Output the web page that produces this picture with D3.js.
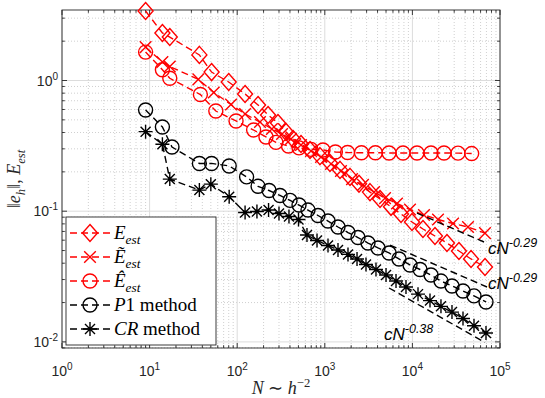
<!DOCTYPE html>
<html>
<head>
<meta charset="utf-8">
<script src="https://cdn.jsdelivr.net/npm/d3@7"></script>
<style>
  body { margin: 0; background: #fff; }
  svg { display: block; }
</style>
</head>
<body>
<div id="chart"></div>
<script>
// error norms / estimators vs. number of unknowns N
var nEst = [9, 14, 17, 37, 51, 80, 123, 173, 225, 292, 361, 434, 535, 678, 881, 1146, 1492, 1941, 2457, 3280, 4270, 5700, 7410, 9890, 13200, 18100, 24800, 34000, 46700, 67400];
var eEst = [3.40, 2.31, 2.15, 1.57, 1.16, 0.974, 0.788, 0.650, 0.545, 0.473, 0.404, 0.357, 0.327, 0.294, 0.264, 0.234, 0.207, 0.183, 0.162, 0.140, 0.124, 0.108, 0.0952, 0.0827, 0.0731, 0.0646, 0.0571, 0.0496, 0.0431, 0.0374];

var nTil = [9, 14, 17, 36, 54, 85, 123, 182, 249, 325, 411, 535, 696, 906, 1178, 1530, 2045, 2730, 3650, 4870, 6670, 9390, 13560, 19600, 29100, 43100, 67400];
var eTil = [1.80, 1.385, 1.28, 1.02, 0.81, 0.655, 0.554, 0.481, 0.426, 0.390, 0.357, 0.321, 0.289, 0.260, 0.230, 0.203, 0.176, 0.159, 0.140, 0.126, 0.1146, 0.103, 0.0935, 0.0864, 0.0805, 0.0757, 0.068];

var nHat = [9, 14, 17, 38, 57, 97, 154, 213, 277, 385, 508, 696, 953, 1320, 1820, 2620, 3780, 5410, 7810, 11290, 16300, 22950, 33170, 47500];
var eHat = [1.65, 1.21, 1.04, 0.781, 0.584, 0.49, 0.418, 0.370, 0.336, 0.315, 0.305, 0.297, 0.294, 0.284, 0.281, 0.280, 0.280, 0.279, 0.279, 0.279, 0.279, 0.279, 0.278, 0.276];

var nP1 = [9, 14, 18, 37, 51, 81, 128, 173, 231, 308, 401, 508, 643, 836, 1088, 1415, 1840, 2393, 3112, 4048, 5410, 7030, 9390, 12220, 16300, 21190, 28310, 37810, 50480, 69200];
var eP1 = [0.595, 0.441, 0.310, 0.232, 0.232, 0.222, 0.183, 0.155, 0.144, 0.132, 0.121, 0.1115, 0.102, 0.0927, 0.0841, 0.0757, 0.0687, 0.0629, 0.0571, 0.0523, 0.0479, 0.0431, 0.0388, 0.0358, 0.0325, 0.0292, 0.0268, 0.0245, 0.0225, 0.0202];

var nCR = [9, 14, 17, 37, 50, 81, 123, 168, 228, 300, 390, 501, 626, 815, 1088, 1415, 1840, 2333, 2953, 3840, 5000, 6500, 8450, 11590, 15880, 21190, 28310, 37810, 50480, 69200];
var eCR = [0.406, 0.325, 0.176, 0.145, 0.161, 0.129, 0.0977, 0.0995, 0.102, 0.096, 0.091, 0.0864, 0.0658, 0.0597, 0.0547, 0.0505, 0.0467, 0.0431, 0.0391, 0.0358, 0.0325, 0.0292, 0.0263, 0.0232, 0.0207, 0.0187, 0.0169, 0.0151, 0.0133, 0.0117];

// reference slopes c*N^-rate : [N start, N end], [value start, value end]
var refN = [[11290, 71100], [5550, 71100], [5410, 67400]];
var refE = [[0.0968, 0.0568], [0.0551, 0.0263], [0.02585, 0.00991]];
var refRate = ['-0.29', '-0.29', '-0.38'];
var refLabelAt = [[72900, 0.0470], [72900, 0.0254], [4740, 0.01034]];

var xTickVals = [1, 10, 100, 1000, 10000, 100000];
var xTickExp = ['0', '1', '2', '3', '4', '5'];
var yTickVals = [0.01, 0.1, 1];
var yTickExp = ['-2', '-1', '0'];

var W = 545, H = 398;
var plotL = 62, plotR = 500, plotT = 10, plotB = 348;
var axisCol = '#262626';
var serif = '"Liberation Serif", "Times New Roman", serif';
var sans = '"Liberation Sans", Arial, Helvetica, sans-serif';
var lw = 1.4;

var svg = d3.select('#chart').append('svg')
  .attr('width', W)
  .attr('height', H);

svg.append('rect').attr('width', W).attr('height', H).attr('fill', '#fff');

var x = d3.scaleLog().domain([1, 1e5]).range([plotL, plotR]);
var y = d3.scaleLog().domain([0.00898, 3.463]).range([plotB, plotT]);

function isDecade(v) {
  var l = Math.log10(v);
  return Math.abs(l - Math.round(l)) < 1e-9;
}
var xMinor = x.ticks().filter(function(d) { return !isDecade(d); });
var yMinor = y.ticks().filter(function(d) { return !isDecade(d); });

// grid
var grid = svg.append('g');
grid.selectAll('.xminor').data(xMinor).enter().append('line')
  .attr('x1', function(d) { return x(d); }).attr('x2', function(d) { return x(d); })
  .attr('y1', plotT).attr('y2', plotB)
  .attr('stroke', '#c4c4c4').attr('stroke-width', 0.8).attr('stroke-dasharray', '1,2');
grid.selectAll('.yminor').data(yMinor).enter().append('line')
  .attr('y1', function(d) { return y(d); }).attr('y2', function(d) { return y(d); })
  .attr('x1', plotL).attr('x2', plotR)
  .attr('stroke', '#c4c4c4').attr('stroke-width', 0.8).attr('stroke-dasharray', '1,2');
grid.selectAll('.xmajor').data(xTickVals).enter().append('line')
  .attr('x1', function(d) { return x(d); }).attr('x2', function(d) { return x(d); })
  .attr('y1', plotT).attr('y2', plotB)
  .attr('stroke', '#dcdcdc').attr('stroke-width', 1);
grid.selectAll('.ymajor').data(yTickVals).enter().append('line')
  .attr('y1', function(d) { return y(d); }).attr('y2', function(d) { return y(d); })
  .attr('x1', plotL).attr('x2', plotR)
  .attr('stroke', '#dcdcdc').attr('stroke-width', 1);

// axes box and ticks (inside, all four sides)
var ax = svg.append('g').attr('stroke', axisCol).attr('stroke-width', 0.9);
ax.append('rect').attr('x', plotL).attr('y', plotT)
  .attr('width', plotR - plotL).attr('height', plotB - plotT).attr('fill', 'none');
function xTick(v, len) {
  ax.append('line').attr('x1', x(v)).attr('x2', x(v)).attr('y1', plotB).attr('y2', plotB - len);
  ax.append('line').attr('x1', x(v)).attr('x2', x(v)).attr('y1', plotT).attr('y2', plotT + len);
}
function yTick(v, len) {
  ax.append('line').attr('y1', y(v)).attr('y2', y(v)).attr('x1', plotL).attr('x2', plotL + len);
  ax.append('line').attr('y1', y(v)).attr('y2', y(v)).attr('x1', plotR).attr('x2', plotR - len);
}
xTickVals.forEach(function(v) { xTick(v, 5); });
xMinor.forEach(function(v) { xTick(v, 2.8); });
yTickVals.forEach(function(v) { yTick(v, 5); });
yMinor.forEach(function(v) { yTick(v, 2.8); });

// tick labels
xTickVals.forEach(function(v, i) {
  var t = svg.append('text').attr('x', x(v)).attr('y', 376)
    .attr('text-anchor', 'middle').attr('font-family', sans).attr('font-size', 14).attr('fill', axisCol);
  t.append('tspan').text('10');
  t.append('tspan').attr('dy', -6).attr('font-size', 10).text(xTickExp[i]);
});
yTickVals.forEach(function(v, i) {
  var t = svg.append('text').attr('x', 58).attr('y', y(v) + 5)
    .attr('text-anchor', 'end').attr('font-family', sans).attr('font-size', 14).attr('fill', axisCol);
  t.append('tspan').text('10');
  t.append('tspan').attr('dy', -6).attr('font-size', 10).text(yTickExp[i]);
});

// math-like text helper
function mathText(sel, parts, size) {
  var shift = 0;
  parts.forEach(function(p) {
    var target = p.sub ? 5 : (p.sup ? -7 : 0);
    var ts = sel.append('tspan').attr('dy', target - shift).text(p.t);
    if (p.it) ts.attr('font-style', 'italic');
    if (p.sub || p.sup) ts.attr('font-size', size * 0.7);
    shift = target;
  });
}

// axis labels
var xl = svg.append('text').attr('x', (plotL + plotR) / 2).attr('y', 394)
  .attr('text-anchor', 'middle').attr('font-family', serif).attr('font-size', 18).attr('fill', axisCol);
mathText(xl, [{t: 'N', it: true}, {t: ' \u223C '}, {t: 'h', it: true}, {t: '\u22122', sup: true}], 18);

var yl = svg.append('text').attr('transform', 'translate(20,' + ((plotT + plotB) / 2) + ') rotate(-90)')
  .attr('text-anchor', 'middle').attr('font-family', serif).attr('font-size', 18).attr('fill', axisCol);
mathText(yl, [{t: '\u2016'}, {t: 'e', it: true}, {t: 'h', it: true, sub: true}, {t: '\u2016, '},
  {t: 'E', it: true}, {t: 'est', it: true, sub: true}], 18);

// markers
function markerPath(type) {
  if (type === 'diamond') return 'M0,-8.5L7.5,0L0,8.5L-7.5,0Z';
  if (type === 'circle') return 'M7,0A7,7 0 1,1 -7,0A7,7 0 1,1 7,0Z';
  if (type === 'cross') return 'M-5.8,-5.8L5.8,5.8M-5.8,5.8L5.8,-5.8';
  return 'M0,-7L0,7M-7,0L7,0M-5,-5L5,5M-5,5L5,-5';
}

var series = [
  {n: nEst, e: eEst, col: '#ff0000', mk: 'diamond', label: [{t: 'E', it: true}, {t: 'est', it: true, sub: true}]},
  {n: nTil, e: eTil, col: '#ff0000', mk: 'cross', label: [{t: '\u1EBC', it: true}, {t: 'est', it: true, sub: true}]},
  {n: nHat, e: eHat, col: '#ff0000', mk: 'circle', label: [{t: '\u00CA', it: true}, {t: 'est', it: true, sub: true}]},
  {n: nP1, e: eP1, col: '#000000', mk: 'circle', label: [{t: 'P', it: true}, {t: '1 method'}]},
  {n: nCR, e: eCR, col: '#000000', mk: 'star', label: [{t: 'CR', it: true}, {t: ' method'}]}
];

var line = d3.line()
  .x(function(d) { return x(d[0]); })
  .y(function(d) { return y(d[1]); });

series.forEach(function(s) {
  var pts = d3.zip(s.n, s.e);
  var g = svg.append('g');
  g.append('path').datum(pts).attr('d', line)
    .attr('fill', 'none').attr('stroke', s.col).attr('stroke-width', lw)
    .attr('stroke-dasharray', '7,4');
  g.selectAll('.m').data(pts).enter().append('path')
    .attr('transform', function(d) { return 'translate(' + x(d[0]) + ',' + y(d[1]) + ')'; })
    .attr('d', markerPath(s.mk))
    .attr('fill', 'none').attr('stroke', s.col).attr('stroke-width', lw);
});

// reference slope lines
refN.forEach(function(nn, i) {
  svg.append('path').datum(d3.zip(nn, refE[i])).attr('d', line)
    .attr('fill', 'none').attr('stroke', '#000').attr('stroke-width', lw)
    .attr('stroke-dasharray', '7,4');
  var t = svg.append('text')
    .attr('x', x(refLabelAt[i][0])).attr('y', y(refLabelAt[i][1]))
    .attr('font-family', sans).attr('font-size', 17).attr('font-style', 'italic').attr('fill', '#000');
  t.append('tspan').text('cN');
  t.append('tspan').attr('dy', -7).attr('font-size', 12.5).text(refRate[i]);
});

// legend
var lg = svg.append('g');
var lgX = 66, lgY = 217, lgW = 150, lgH = 128, rowH = 24;
lg.append('rect').attr('x', lgX).attr('y', lgY).attr('width', lgW).attr('height', lgH)
  .attr('fill', '#fff').attr('stroke', axisCol).attr('stroke-width', 0.9);
series.forEach(function(s, i) {
  var cy = lgY + 16 + i * rowH;
  lg.append('line').attr('x1', lgX + 4).attr('x2', lgX + 44).attr('y1', cy).attr('y2', cy)
    .attr('stroke', s.col).attr('stroke-width', lw).attr('stroke-dasharray', '7,4');
  lg.append('path').attr('transform', 'translate(' + (lgX + 24) + ',' + cy + ')')
    .attr('d', markerPath(s.mk)).attr('fill', 'none').attr('stroke', s.col).attr('stroke-width', lw);
  var t = lg.append('text').attr('x', lgX + 48).attr('y', cy + 6)
    .attr('font-family', serif).attr('font-size', 19).attr('fill', '#000');
  mathText(t, s.label, 19);
});
</script>
</body>
</html>
